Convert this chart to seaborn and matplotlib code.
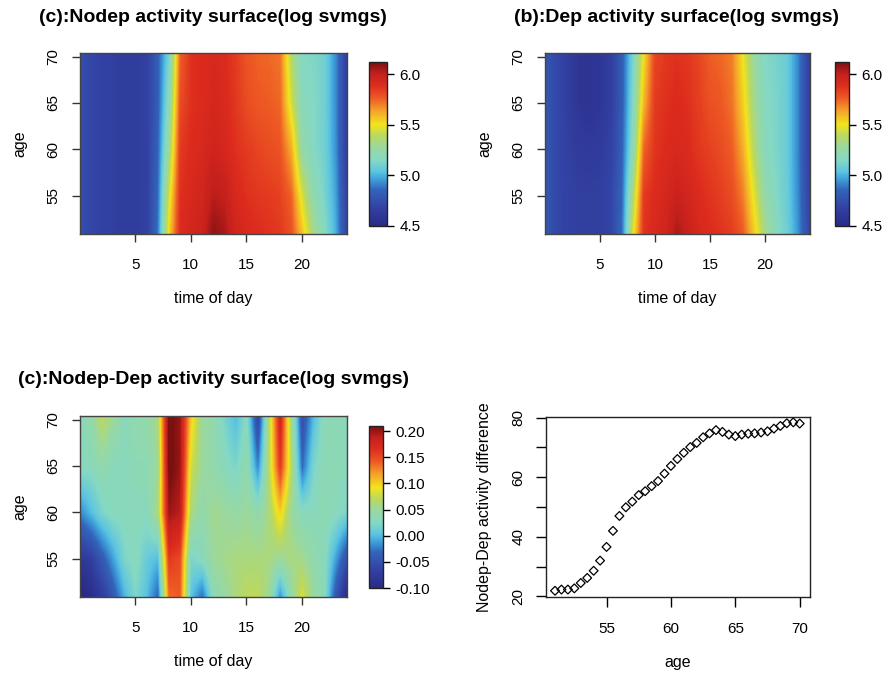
import numpy as np
import pandas as pd
import seaborn as sns
import matplotlib.pyplot as plt
from matplotlib.colors import LinearSegmentedColormap
from matplotlib.ticker import FormatStrFormatter

sns.set_style("ticks")
plt.rcParams['font.family'] = ['Liberation Sans', 'DejaVu Sans']
plt.rcParams['axes.unicode_minus'] = False
plt.rcParams['text.color'] = 'black'
plt.rcParams['axes.labelcolor'] = 'black'
plt.rcParams['xtick.color'] = 'black'
plt.rcParams['ytick.color'] = 'black'

# surface grids: rows are ages, columns are hours of the day
hours = [0, 1, 2, 3, 4, 5, 6, 7, 8, 9, 10, 11, 12, 13, 14, 15, 16, 17, 18, 19, 20, 21, 22, 23, 24]
age_rows = [50, 55, 60, 65, 70]

nodep_50 = [4.76, 4.71, 4.68, 4.66, 4.65, 4.65, 4.67, 4.90, 5.55, 5.90, 5.95, 5.98, 6.10, 6.06, 5.96, 5.92, 5.90, 5.88, 5.86, 5.80, 5.60, 5.35, 5.18, 5.00, 4.70]
nodep_55 = [4.76, 4.71, 4.68, 4.66, 4.65, 4.65, 4.67, 4.87, 5.45, 5.88, 5.92, 5.95, 6.02, 6.00, 5.92, 5.88, 5.86, 5.85, 5.83, 5.75, 5.45, 5.22, 5.12, 4.97, 4.68]
nodep_60 = [4.76, 4.71, 4.68, 4.66, 4.65, 4.65, 4.67, 4.85, 5.30, 5.85, 5.90, 5.92, 5.96, 5.93, 5.88, 5.85, 5.82, 5.80, 5.78, 5.62, 5.25, 5.15, 5.10, 4.94, 4.65]
nodep_65 = [4.76, 4.71, 4.68, 4.66, 4.65, 4.65, 4.67, 4.83, 5.20, 5.80, 5.88, 5.90, 5.93, 5.91, 5.86, 5.80, 5.77, 5.76, 5.74, 5.45, 5.18, 5.15, 5.10, 4.93, 4.65]
nodep_70 = [4.76, 4.71, 4.68, 4.66, 4.65, 4.65, 4.67, 4.83, 5.12, 5.75, 5.88, 5.90, 5.92, 5.90, 5.85, 5.78, 5.75, 5.74, 5.72, 5.38, 5.15, 5.14, 5.10, 4.93, 4.65]

dep_50 = [4.80, 4.72, 4.68, 4.66, 4.66, 4.66, 4.70, 4.88, 5.50, 5.88, 5.92, 5.96, 6.06, 6.00, 5.93, 5.90, 5.88, 5.85, 5.78, 5.58, 5.35, 5.18, 5.10, 4.95, 4.72]
dep_55 = [4.80, 4.72, 4.68, 4.66, 4.66, 4.66, 4.70, 4.86, 5.35, 5.85, 5.90, 5.93, 5.98, 5.94, 5.90, 5.87, 5.84, 5.80, 5.70, 5.48, 5.25, 5.15, 5.08, 4.93, 4.70]
dep_60 = [4.80, 4.72, 4.67, 4.64, 4.63, 4.64, 4.68, 4.84, 5.20, 5.75, 5.87, 5.90, 5.92, 5.90, 5.86, 5.83, 5.80, 5.76, 5.62, 5.38, 5.18, 5.13, 5.08, 4.92, 4.68]
dep_65 = [4.80, 4.72, 4.66, 4.60, 4.58, 4.60, 4.66, 4.82, 5.15, 5.60, 5.85, 5.88, 5.90, 5.88, 5.84, 5.79, 5.77, 5.72, 5.55, 5.32, 5.16, 5.13, 5.08, 4.92, 4.68]
dep_70 = [4.80, 4.72, 4.66, 4.60, 4.58, 4.60, 4.66, 4.82, 5.12, 5.52, 5.82, 5.86, 5.88, 5.86, 5.82, 5.76, 5.74, 5.70, 5.50, 5.28, 5.15, 5.12, 5.08, 4.92, 4.68]

diff_50 = [-0.11, -0.10, -0.08, -0.05, -0.01, 0.02, 0.00, -0.04, 0.13, 0.14, 0.00, -0.04, 0.03, 0.045, 0.06, 0.075, 0.075, 0.05, -0.03, 0.04, 0.09, 0.05, 0.03, -0.05, -0.11]
diff_55 = [-0.08, -0.07, -0.04, -0.01, 0.02, 0.03, 0.01, 0.00, 0.16, 0.15, 0.02, 0.03, 0.05, 0.055, 0.06, 0.06, 0.06, 0.06, 0.05, 0.06, 0.055, 0.04, 0.03, -0.01, -0.05]
diff_60 = [-0.02, 0.00, 0.02, 0.03, 0.03, 0.03, 0.03, 0.06, 0.20, 0.19, 0.06, 0.04, 0.055, 0.05, 0.045, 0.05, 0.04, 0.06, 0.10, 0.05, 0.03, 0.03, 0.035, 0.03, 0.02]
diff_65 = [0.03, 0.03, 0.04, 0.03, 0.03, 0.035, 0.035, 0.05, 0.215, 0.20, 0.08, 0.05, 0.04, 0.03, 0.02, 0.04, -0.02, 0.07, 0.16, 0.07, -0.03, 0.02, 0.035, 0.035, 0.03]
diff_70 = [0.03, 0.04, 0.07, 0.05, 0.03, 0.04, 0.04, 0.06, 0.215, 0.20, 0.10, 0.05, 0.04, 0.02, 0.00, 0.03, -0.06, 0.07, 0.18, 0.06, -0.05, 0.00, 0.035, 0.035, 0.03]

# activity difference by age
ages = [51, 51.5, 52, 52.5, 53, 53.5, 54, 54.5, 55, 55.5, 56, 56.5, 57, 57.5, 58, 58.5, 59, 59.5, 60,
        60.5, 61, 61.5, 62, 62.5, 63, 63.5, 64, 64.5, 65, 65.5, 66, 66.5, 67, 67.5, 68, 68.5, 69, 69.5, 70]
act_diff = [21.9, 22.3, 22.3, 22.7, 24.5, 26.2, 28.6, 32.0, 36.6, 42.0, 47.0, 49.9, 51.8, 54.0, 55.3, 57.0, 58.7, 61.2, 63.8,
            66.1, 68.2, 70.1, 71.5, 73.4, 74.7, 75.8, 75.2, 74.3, 73.8, 74.3, 74.6, 74.7, 75.0, 75.4, 76.3, 77.2, 78.1, 78.4, 78.0]

cmap = LinearSegmentedColormap.from_list("surf", [
    (0.00, "#2a2a85"), (0.12, "#3344a6"), (0.22, "#3464ba"), (0.28, "#3c9cd8"),
    (0.33, "#5cc4e2"), (0.40, "#84d8c4"), (0.48, "#9ad8a0"), (0.55, "#bad860"),
    (0.62, "#f2e41c"), (0.70, "#f5a52a"), (0.78, "#ee5a24"), (0.86, "#dd2c1e"),
    (0.93, "#c4201c"), (1.00, "#7a1010")])

W, H = 896, 680
fig = plt.figure(figsize=(W / 100, H / 100), dpi=100)

def box(x0, y0, x1, y1):
    return [x0 / W, 1 - y1 / H, (x1 - x0) / W, (y1 - y0) / H]

def surface(ax, cax, rows, vmin, vmax, cticks, fmt):
    z = np.array(rows)
    im = ax.imshow(z, origin="lower", cmap=cmap, vmin=vmin, vmax=vmax,
                   extent=[hours[0] - 0.5, hours[-1] + 0.5, age_rows[0] - 2.5, age_rows[-1] + 2.5],
                   aspect="auto", interpolation="bilinear", interpolation_stage="data")
    ax.set_xlim(0, 24.1)
    ax.set_ylim(50.85, 70.4)
    ax.set_xticks([5, 10, 15, 20])
    ax.set_yticks([55, 60, 65, 70])
    ax.tick_params(axis="x", labelsize=11, length=6, width=1, pad=11, color="#333333")
    ax.tick_params(axis="y", labelsize=11, length=6, width=1, pad=8, labelrotation=90, color="#333333")
    for lab in ax.get_yticklabels():
        lab.set_va("center")
    for sp in ax.spines.values():
        sp.set_color("#444444")
        sp.set_linewidth(1)
    ax.set_xlabel("time of day", fontsize=11.5, labelpad=14)
    ax.set_ylabel("age", fontsize=11.5, labelpad=14)
    cb = fig.colorbar(im, cax=cax, ticks=cticks)
    cb.ax.yaxis.set_major_formatter(FormatStrFormatter(fmt))
    cb.ax.tick_params(labelsize=11, length=5, width=1, pad=4)
    cb.outline.set_linewidth(1)
    cb.outline.set_edgecolor("#222222")

ax1 = fig.add_axes(box(80, 53, 347, 234))
cax1 = fig.add_axes(box(369, 62, 387, 226))
surface(ax1, cax1, [nodep_50, nodep_55, nodep_60, nodep_65, nodep_70], 4.5, 6.12, [4.5, 5.0, 5.5, 6.0], "%.1f")
fig.text(213 / W, 1 - 17 / H, "(c):Nodep activity surface(log svmgs)", ha="center", va="center",
         fontsize=14, fontweight="bold")

ax2 = fig.add_axes(box(545, 53, 810, 234))
cax2 = fig.add_axes(box(835, 62, 849, 226))
surface(ax2, cax2, [dep_50, dep_55, dep_60, dep_65, dep_70], 4.5, 6.12, [4.5, 5.0, 5.5, 6.0], "%.1f")
fig.text(677 / W, 1 - 17 / H, "(b):Dep activity surface(log svmgs)", ha="center", va="center",
         fontsize=14, fontweight="bold")

ax3 = fig.add_axes(box(80, 416, 347, 597))
cax3 = fig.add_axes(box(369, 426, 383, 588))
surface(ax3, cax3, [diff_50, diff_55, diff_60, diff_65, diff_70], -0.10, 0.21,
        [-0.10, -0.05, 0.0, 0.05, 0.10, 0.15, 0.20], "%.2f")
fig.text(213 / W, 1 - 379 / H, "(c):Nodep-Dep activity surface(log svmgs)", ha="center", va="center",
         fontsize=14, fontweight="bold")

ax4 = fig.add_axes(box(546, 417, 810, 597))
df = pd.DataFrame({"age": ages, "diff": act_diff})
sns.scatterplot(data=df, x="age", y="diff", marker="D", s=20, facecolor="none",
                edgecolor="black", linewidth=0.9, ax=ax4)
ax4.set_xlim(50.3, 70.8)
ax4.set_ylim(19.8, 80.2)
ax4.set_xticks([55, 60, 65, 70])
ax4.set_yticks([20, 40, 60, 80])
ax4.set_yticks([30, 50, 70], minor=True)
ax4.tick_params(axis="x", labelsize=11, length=7, width=1, pad=11)
ax4.tick_params(axis="y", which="both", labelsize=11, length=7, width=1, pad=8, labelrotation=90)
for lab in ax4.get_yticklabels():
    lab.set_va("center")
for sp in ax4.spines.values():
    sp.set_color("#222222")
    sp.set_linewidth(1)
ax4.set_xlabel("age", fontsize=11.5, labelpad=14)
ax4.set_ylabel("Nodep-Dep activity difference", fontsize=11.5, labelpad=14)

fig.savefig("out.png", dpi=100)
